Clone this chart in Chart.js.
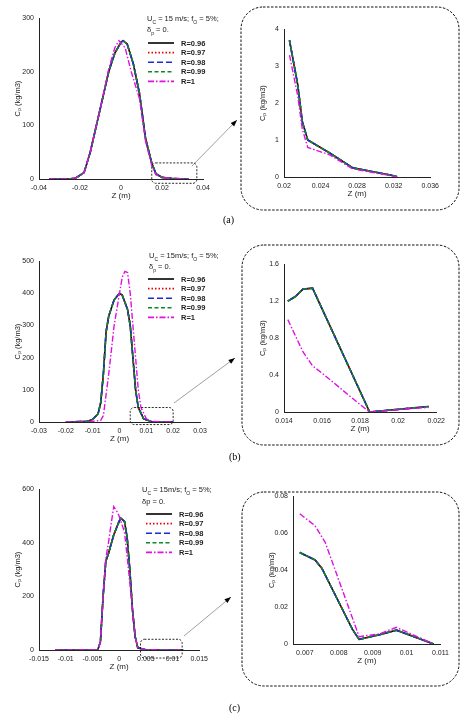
<!DOCTYPE html>
<html><head><meta charset="utf-8">
<script src="https://cdn.jsdelivr.net/npm/chart.js@4"></script>
<style>
body{margin:0;background:#fff;width:474px;height:720px;position:relative;overflow:hidden;font-family:"Liberation Sans",Arial,sans-serif}
canvas.c{position:absolute}
.t{position:absolute;font-size:7.5px;color:#222;white-space:nowrap;line-height:9px}
.p{position:absolute;font-family:"Liberation Serif",serif;font-size:10px}
</style></head><body>
<canvas id="ov" width="474" height="720" style="position:absolute;left:0;top:0"></canvas>
<script>
const seriesLabels=["R=0.96","R=0.97","R=0.98","R=0.99","R=1"];
// Panel (a) main
const aZ=[-0.035,-0.025,-0.022,-0.018,-0.015,-0.012,-0.009,-0.006,-0.003,0,0.001,0.003,0.006,0.009,0.012,0.015,0.017,0.02,0.025,0.033];
const aC=[0,0,2,12,50,100,150,200,235,255,258,252,215,160,75,30,10,3,1,0];
const aZ1=[-0.035,-0.025,-0.022,-0.018,-0.015,-0.012,-0.009,-0.006,-0.003,-0.001,0.002,0.005,0.009,0.012,0.015,0.017,0.02,0.025,0.033];
const aC1=[0,0,2,12,50,100,150,205,245,258,245,200,150,70,25,8,3,1,0];
// Panel (a) inset
const aiZ=[0.0206,0.0215,0.022,0.0226,0.025,0.0275,0.0323];
const aiC=[3.7,2.5,1.5,1.0,0.65,0.25,0.02];
const aiZ1=[0.0206,0.0215,0.022,0.0226,0.025,0.0275,0.0325];
const aiC1=[3.3,2.2,1.3,0.8,0.6,0.22,0];
// Panel (b) main
const bZ=[-0.02,-0.012,-0.01,-0.008,-0.007,-0.006,-0.005,-0.004,-0.002,0,0.001,0.003,0.004,0.005,0.006,0.007,0.009,0.012,0.02];
const bC=[0,2,8,25,60,150,280,330,380,400,395,350,300,200,100,45,10,1,0];
const bZ1=[-0.02,-0.012,-0.007,-0.006,-0.004,-0.002,0,0.001,0.002,0.003,0.004,0.005,0.006,0.007,0.008,0.01,0.012,0.02];
const bC1=[0,0,5,20,150,300,400,450,468,465,400,300,200,100,45,10,2,0];
// Panel (b) inset
const biZ=[0.0142,0.0146,0.015,0.0155,0.0185,0.0216];
const biC=[1.2,1.25,1.33,1.34,0,0.06];
const biZ1=[0.0142,0.015,0.0155,0.016,0.017,0.018,0.0185,0.0216];
const biC1=[1.0,0.65,0.5,0.42,0.25,0.08,0,0.05];
// Panel (c) main
const cZ=[-0.012,-0.004,-0.0035,-0.003,-0.0025,-0.002,-0.001,0,0.0003,0.001,0.0015,0.002,0.0025,0.003,0.0035,0.005,0.012];
const cC=[0,1,30,200,330,360,430,480,492,480,420,300,150,50,8,1,0];
const cZ1=[-0.012,-0.004,-0.0035,-0.003,-0.0025,-0.002,-0.0015,-0.001,-0.0005,0,0.001,0.0015,0.002,0.0025,0.003,0.0035,0.005,0.012];
const cC1=[0,1,30,200,340,400,470,535,520,500,440,350,250,150,50,8,1,0];
// Panel (c) inset
const ciZ=[0.00685,0.0073,0.0075,0.0084,0.0086,0.0092,0.0097,0.0108];
const ciC=[0.0495,0.0455,0.041,0.008,0.0025,0.005,0.0075,0];
const ciZ1=[0.00685,0.0073,0.0076,0.0086,0.0092,0.0097,0.0108];
const ciC1=[0.0705,0.064,0.055,0.004,0.0055,0.009,0];

const styles=[
 {c:'#000',d:[],w:1.6},{c:'#e00',d:[1.5,2],w:1.6},{c:'#1a2cd6',d:[6,3],w:1.6},{c:'#0a8a2a',d:[4,2.5],w:1.6},{c:'#e010e0',d:[6,2,1.5,2],w:1.4}];
function pts(z,c){return z.map((x,i)=>({x,y:c[i]}));}
const YW=26,PT=6,PR=10,XH=22;
function make(pr,z,c,z1,c1,xs,ys,xfmt,box){
 const cv=document.createElement('canvas');cv.className='c';
 const L=pr[0]-YW,T=pr[1]-PT,W=pr[2]-pr[0]+YW+PR,H=pr[3]-pr[1]+PT+XH;
 cv.width=W;cv.height=H;
 cv.style.left=L+'px';cv.style.top=T+'px';cv.style.width=W+'px';cv.style.height=H+'px';
 document.body.appendChild(cv);
 const ds=styles.map((s,i)=>({label:seriesLabels[i],data:i<4?pts(z,c):pts(z1,c1),borderColor:s.c,borderDash:s.d,borderWidth:s.w,pointRadius:0,fill:false,tension:0}));
 ds.reverse();
 const tick={font:{size:7,family:'Liberation Sans'},color:'#222',padding:2};
 const boxPlug={id:'b',afterDatasetsDraw(ch){if(!box)return;const g=ch.ctx,x=ch.scales.x,y=ch.scales.y;
  const x0=x.getPixelForValue(box[0]),x1=x.getPixelForValue(box[1]),y0=y.getPixelForValue(box[3]),y1=y.getPixelForValue(box[2]);
  g.save();g.setLineDash([2,1.5]);g.strokeStyle='#111';g.lineWidth=0.9;g.beginPath();g.roundRect(x0,y0,x1-x0,y1-y0,4);g.stroke();g.restore();}};
 new Chart(cv,{type:'line',data:{datasets:ds},plugins:[boxPlug],options:{responsive:false,maintainAspectRatio:false,animation:false,devicePixelRatio:1,
  layout:{padding:{top:PT,right:PR,left:0,bottom:0}},
  plugins:{legend:{display:false},tooltip:{enabled:false}},
  scales:{x:{type:'linear',min:xs[0],max:xs[1],afterBuildTicks(a){a.ticks=xs[3].map(v=>({value:v}));},afterFit(a){a.height=XH;},
    grid:{display:false,drawTicks:true,tickLength:3,tickColor:'#222'},border:{color:'#222',width:1},
    ticks:{...tick,maxRotation:0,autoSkip:false,callback:v=>xfmt(v)},
    title:{display:true,text:'Z (m)',font:{size:8,family:'Liberation Sans'},color:'#222',padding:0}},
   y:{type:'linear',min:ys[0],max:ys[1],afterBuildTicks(a){a.ticks=ys[2].map(v=>({value:v}));},afterFit(a){a.width=YW;},
    grid:{display:false,drawTicks:true,tickLength:3,tickColor:'#222'},border:{color:'#222',width:1},
    ticks:{...tick,autoSkip:false,callback:v=>+v.toFixed(4)+''},
    title:{display:true,text:'Cₚ (kg/m3)',font:{size:7.5,family:'Liberation Sans'},color:'#222',padding:0}}}}});
}
const r=a=>{const o=[];for(let v=a[0];v<=a[1]+1e-12;v+=a[2])o.push(+v.toFixed(5));return o;};
const f=v=>String(+v.toFixed(4));
make([39,18,203,179],aZ,aC,aZ1,aC1,[-0.04,0.04,0,r([-0.04,0.04,0.02])],[0,300,r([0,300,100])],f,[0.015,0.037,-8,30]);
make([284,29,431,177],aiZ,aiC,aiZ1,aiC1,[0.02,0.036,0,r([0.02,0.036,0.004])],[0,4,r([0,4,1])],f,null);
make([39,261,200,422],bZ,bC,bZ1,bC1,[-0.03,0.03,0,r([-0.03,0.03,0.01])],[0,500,r([0,500,100])],f,[0.004,0.02,-8,45]);
make([284,264,437,412],biZ,biC,biZ1,biC1,[0.014,0.022,0,r([0.014,0.022,0.002])],[0,1.6,r([0,1.6,0.4])],f,null);
make([39,489,200,650],cZ,cC,cZ1,cC1,[-0.015,0.015,0,r([-0.015,0.015,0.005])],[0,600,r([0,600,200])],f,[0.004,0.0118,-30,40]);
make([293,496,441,644],ciZ,ciC,ciZ1,ciC1,[0.00665,0.011,0,r([0.007,0.011,0.001])],[0,0.08,r([0,0.08,0.02])],f,null);

// overlay: frames, arrows, legends
const g=document.getElementById('ov').getContext('2d');
g.strokeStyle='#111';g.lineWidth=1;g.setLineDash([2.5,1.5]);
[[241,7,218,203],[242,245,217,200],[242,492,217,194]].forEach(b=>{g.beginPath();g.roundRect(b[0],b[1],b[2],b[3],22);g.stroke();});
g.setLineDash([]);
function arrow(x0,y0,x1,y1){g.strokeStyle='#777';g.lineWidth=0.7;g.beginPath();g.moveTo(x0,y0);g.lineTo(x1,y1);g.stroke();
 const a=Math.atan2(y1-y0,x1-x0);g.fillStyle='#000';g.beginPath();g.moveTo(x1,y1);g.lineTo(x1-7*Math.cos(a-0.35),y1-7*Math.sin(a-0.35));g.lineTo(x1-7*Math.cos(a+0.35),y1-7*Math.sin(a+0.35));g.closePath();g.fill();}
arrow(192,166,237,120);arrow(174,403,235,358);arrow(184,636,231,597);
const legs=[[148,43],[148,279],[146,514]];
legs.forEach(([x,y])=>{styles.forEach((s,i)=>{g.strokeStyle=s.c;g.lineWidth=1.6;g.setLineDash(s.d);g.beginPath();g.moveTo(x,y+i*9.6);g.lineTo(x+26,y+i*9.6);g.stroke();});g.setLineDash([]);});
function txt(x,y,h,cls){const d=document.createElement('div');d.className=cls||'t';d.style.left=x+'px';d.style.top=y+'px';d.innerHTML=h;document.body.appendChild(d);}
txt(147,14,'U<sub style="font-size:5px">C</sub> = 15 m/s; f<sub style="font-size:5px">O</sub> = 5%;');
txt(147,25,'δ<sub style="font-size:5px">p</sub> = 0.');
txt(149,251,'U<sub style="font-size:5px">C</sub> = 15m/s; f<sub style="font-size:5px">O</sub> = 5%;');
txt(149,262,'δ<sub style="font-size:5px">p</sub> = 0.');
txt(142,485,'U<sub style="font-size:5px">C</sub> = 15m/s; f<sub style="font-size:5px">O</sub> = 5%;');
txt(142,497,'δp = 0.');
legs.forEach(([x,y])=>seriesLabels.forEach((l,i)=>txt(x+33,y+i*9.6-4.5,'<b style="font-weight:600">'+l+'</b>')));
txt(223,214,'(a)','p');txt(229,451,'(b)','p');txt(229,702,'(c)','p');
</script></body></html>
